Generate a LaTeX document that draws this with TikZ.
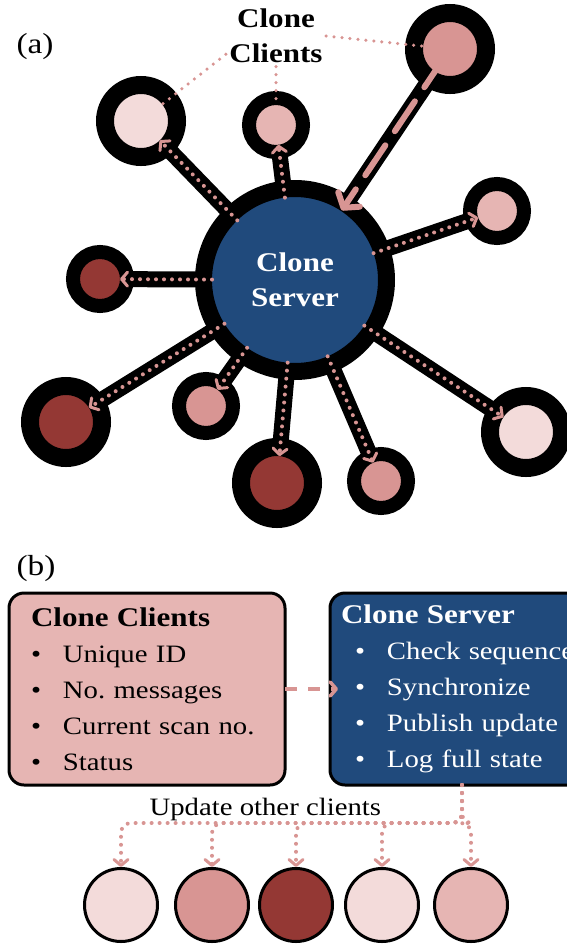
\documentclass[tikz,border=0pt]{standalone}
\usepackage{fontspec}
\setmainfont{Liberation Serif}[FakeStretch=1.15]
\usetikzlibrary{arrows.meta,calc}
\pgfdeclarelayer{bg}
\pgfsetlayers{bg,main}
\definecolor{srvblue}{HTML}{204A7C}
\definecolor{vlight}{HTML}{F3DBDA}
\definecolor{lpink}{HTML}{E6B5B3}
\definecolor{mpink}{HTML}{D89593}
\definecolor{dred}{HTML}{943834}
\newcommand{\itm}[2]{\mbox{\hspace*{#1}\makebox[32pt][l]{\textbullet}#2}}

\begin{document}
\begin{tikzpicture}[x=1pt, y=-1pt, font=\fontsize{25}{36}\selectfont,
	client/.style={circle, draw=black, inner sep=0pt, outer sep=0pt},
	bigcl/.style={client, line width=18pt, minimum size=72pt},
	smallcl/.style={client, line width=14pt, minimum size=54pt},
	band/.style={black, line width=16pt},
	upd/.style={draw=mpink, line width=4pt, line cap=round, dash pattern=on 0pt off 8pt,
		-{Straight Barb[length=6pt, width=14pt, line width=3pt, round]}},
	lbl/.style={draw=mpink, line width=3.5pt, line cap=round, dash pattern=on 0pt off 8pt},
	pull/.style={draw=mpink, line width=6pt, line cap=round, dash pattern=on 36pt off 17pt, dash phase=43pt,
		-{Straight Barb[length=10pt, width=26pt, line width=6pt, round]}},
	push/.style={draw=mpink, line width=4pt, dash pattern=on 12pt off 11pt,
		-{Straight Barb[length=6pt, width=14pt, line width=3.5pt, round]}},
	boldtxt/.style={font=\fontsize{27}{35}\selectfont\bfseries},
	cbox/.style={draw=black, line width=3pt, rounded corners=15pt, outer sep=0pt, anchor=north west,
		minimum height=192pt, align=left},
	botcl/.style={circle, draw=black, line width=3pt, minimum size=73pt, inner sep=0pt}]

	\useasboundingbox (0,0) rectangle (567,946);

	% (a) clone server and its clients
	\node[anchor=base west, font=\fontsize{29}{35}\selectfont] (pa) at (13,53) {(a)};
	\node[client, line width=17pt, minimum size=183pt, fill=srvblue, text=white, boldtxt, align=center] (srv) at (295,280) {Clone\\Server};
	\node[bigcl, fill=vlight] (c1) at (141,121) {};
	\node[smallcl, fill=lpink] (c2) at (276,125) {};
	\node[bigcl, fill=mpink] (c3) at (450,49) {};
	\node[smallcl, fill=lpink] (c4) at (497,211) {};
	\node[smallcl, fill=dred] (c5) at (100,279) {};
	\node[bigcl, fill=dred] (c6) at (66,422) {};
	\node[smallcl, fill=mpink] (c7) at (206,406) {};
	\node[bigcl, fill=dred] (c8) at (277,483) {};
	\node[smallcl, fill=mpink] (c9) at (381,481) {};
	\node[bigcl, fill=vlight] (c10) at (526,432) {};

	\begin{pgfonlayer}{bg}
		\foreach \c in {1,...,10}
			\draw[band] (srv.center) -- (c\c.center);
	\end{pgfonlayer}

	\foreach \c/\r in {1/27,2/20,4/20,5/20,6/27,7/20,8/27,9/20,10/27}
		\draw[upd] ($(srv.center)!83pt!(c\c.center)$) -- ($(c\c.center)!\r pt!(srv.center)$);
	\draw[pull] (c3.center) -- ($(srv.center)!84pt!(c3.center)$);

	\node[boldtxt, align=center] (cl) at (276,36) {Clone\\Clients};
	\draw[lbl] (cl.200) -- ($(c1.center)!27pt!(cl.200)$);
	\draw[lbl] (cl.south) -- ($(c2.center)!20pt!(cl.south)$);
	\draw[lbl] (cl.east) -- ($(c3.center)!27pt!(cl.east)$);

	% (b) message flow
	\node[anchor=base west, font=\fontsize{29}{35}\selectfont] (pb) at (13,575) {(b)};
	\node[cbox, fill=lpink, minimum width=276pt, text width=232pt, inner xsep=22pt] (clbox) at (9,593)
		{{\fontsize{27}{36}\selectfont\bfseries Clone Clients}\\
		\itm{0pt}{Unique ID}\\
		\itm{0pt}{No.\ messages}\\
		\itm{0pt}{Current scan no.}\\
		\itm{0pt}{Status}};
	\node[cbox, fill=srvblue, text=white, minimum width=290pt, text width=268pt, inner xsep=11pt] (srvbox) at (330,593)
		{{\fontsize{27}{36}\selectfont\bfseries Clone Server}\\
		\itm{14pt}{Check sequence}\\
		\itm{14pt}{Synchronize}\\
		\itm{14pt}{Publish update}\\
		\itm{14pt}{Log full state}};
	\draw[push] (clbox.east) -- ([xshift=8pt]srvbox.west);

	\node[anchor=base west] (updt) at (146,815) {Update other clients};
	\node[botcl, fill=vlight] (u1) at (121,905) {};
	\node[botcl, fill=mpink] (u2) at (212,905) {};
	\node[botcl, fill=dred] (u3) at (296,905) {};
	\node[botcl, fill=vlight] (u4) at (382,905) {};
	\node[botcl, fill=lpink] (u5) at (471,905) {};
	\coordinate (fork) at (462,823);
	\foreach \u in {1,...,5}
		\draw[upd, rounded corners=10pt] (fork |- srvbox.south) -- (fork) -| (u\u.north);
\end{tikzpicture}
\end{document}
